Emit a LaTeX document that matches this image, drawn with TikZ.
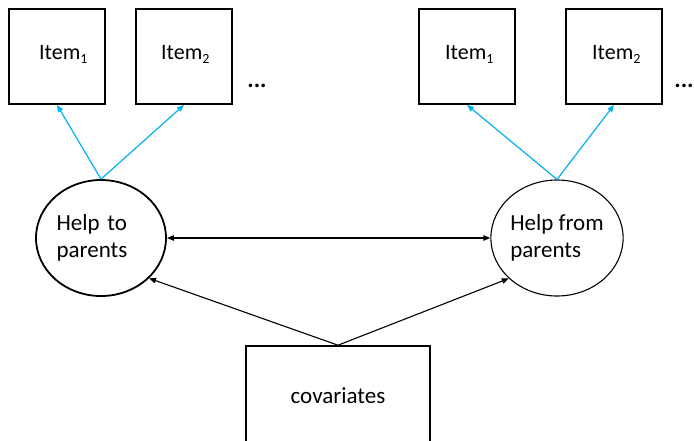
\documentclass[tikz,border=0pt]{standalone}
\usepackage{fontspec}
\setmainfont{Carlito}
\usetikzlibrary{shapes.geometric,arrows.meta}
\definecolor{linkblue}{HTML}{00B0F0}
% lowered index digit after an item label
\newcommand\itemidx[1]{\raisebox{-4.5pt}{\fontsize{14}{14}\selectfont #1}}
\begin{document}
\begin{tikzpicture}[x=1pt,y=-1pt,
  itembox/.style={draw, line width=1.8pt, minimum width=96pt, minimum height=95pt, inner sep=0pt},
  itemtext/.style={font=\fontsize{22}{24}\selectfont, inner sep=0pt, anchor=base west},
  dots/.style={font=\fontsize{24}{24}\selectfont\bfseries, inner sep=0pt},
  latent/.style={draw, ellipse, minimum width=130pt, minimum height=116pt, inner sep=0pt,
    align=left, font=\fontsize{23}{27}\selectfont},
  observed/.style={draw, line width=1.6pt, minimum width=184pt, minimum height=100pt, inner sep=0pt,
    font=\fontsize{23}{27}\selectfont},
  tip/.tip={Triangle[length=7pt,width=5.5pt]},
  load/.style={linkblue, line width=1.2pt, -tip},
  regress/.style={black, line width=1.1pt, -tip},
]
\clip (0,0) rectangle (694,440);

% indicator boxes
\node[itembox] (a1) at (57,56.5) {};
\node[itembox] (a2) at (184,56.5) {};
\node[itembox] (b1) at (467,56.5) {};
\node[itembox] (b2) at (614,56.5) {};
\node[itemtext] (ta1) at (39,59) {Item\itemidx{1}};
\node[itemtext] (ta2) at (161,59) {Item\itemidx{2}};
\node[itemtext] (tb1) at (445,59) {Item\itemidx{1}};
\node[itemtext] (tb2) at (592,59) {Item\itemidx{2}};
\node[dots] (da) at (257,86) {...};
\node[dots] (db) at (684,86) {...};

% latent factors
\node[latent, line width=1.8pt, text width=89pt] (hp) at (101,238) {Help to\\parents};
\node[latent, line width=1.1pt] (hf) at (557,238) {Help from\\parents};

% covariates
\node[observed] (cov) at (338,396) {covariates};

% loadings
\draw[load] (hp.north) -- (a1.south);
\draw[load] (hp.north) -- (a2.south);
\draw[load] (hf.north) -- (b1.south);
\draw[load] (hf.north) -- (b2.south);

% structural paths
\draw[regress, tip-tip] (hp.east) -- (hf.west);
\draw[regress] (cov.north) -- (hp.-40);
\draw[regress] (cov.north) -- (hf.-140);
\end{tikzpicture}
\end{document}
